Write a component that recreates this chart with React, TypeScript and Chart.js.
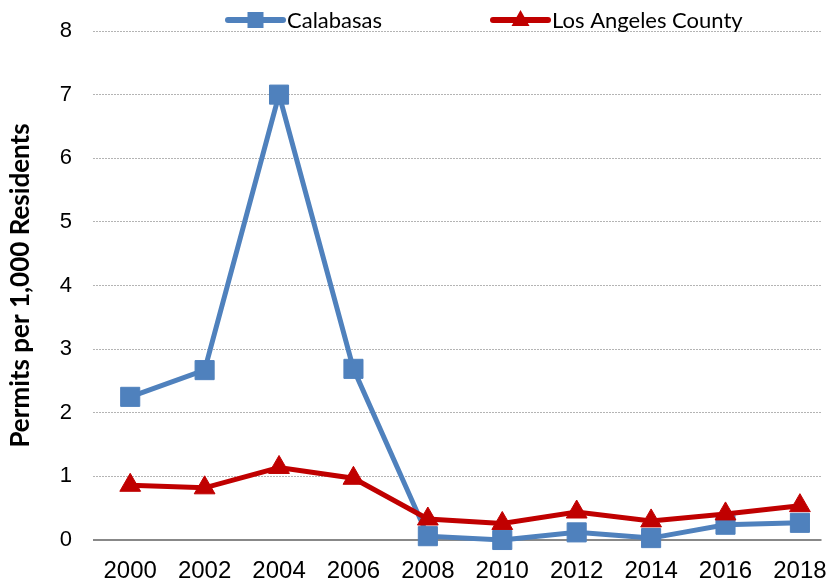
import React, { useEffect, useRef } from "react";
import { Chart, registerables } from "chart.js";

Chart.register(...registerables);

const years = [2000, 2002, 2004, 2006, 2008, 2010, 2012, 2014, 2016, 2018];
const calabasas = [2.25, 2.67, 7.0, 2.69, 0.06, 0.0, 0.12, 0.03, 0.24, 0.27];
const laCounty = [0.86, 0.82, 1.14, 0.97, 0.33, 0.26, 0.44, 0.3, 0.41, 0.54];
const yTicks = [0, 1, 2, 3, 4, 5, 6, 7, 8];
// visible x range (the reference plot is cut off at the right edge)
const X_MIN = 1999;
const X_MAX = 2018.58;

const BLUE = "#4F81BD";
const RED = "#C00000";

const toPoints = (vals: number[]) => years.map((yr, i) => ({ x: yr, y: vals[i] }));

const legendPlugin = {
  id: "customLegend",
  afterDraw(chart: any) {
    const ctx = chart.ctx;
    const y = 20;
    const items = [
      { label: "Calabasas", color: BLUE, style: "rect", x0: 228, x1: 283 },
      { label: "Los Angeles County", color: RED, style: "triangle", x0: 493, x1: 548 },
    ];
    ctx.save();
    for (const it of items) {
      ctx.strokeStyle = it.color;
      ctx.fillStyle = it.color;
      ctx.lineWidth = 6;
      ctx.lineCap = "round";
      ctx.beginPath();
      ctx.moveTo(it.x0, y);
      ctx.lineTo(it.x1, y);
      ctx.stroke();
      const cx = (it.x0 + it.x1) / 2;
      if (it.style === "rect") {
        ctx.fillRect(cx - 8, y - 8, 16, 16);
      } else {
        ctx.beginPath();
        ctx.moveTo(cx, y - 10);
        ctx.lineTo(cx + 9, y + 6);
        ctx.lineTo(cx - 9, y + 6);
        ctx.closePath();
        ctx.fill();
      }
      ctx.fillStyle = "#000";
      ctx.font = "22px Lato";
      ctx.textBaseline = "middle";
      ctx.textAlign = "left";
      ctx.fillText(it.label, it.x1 + 4, y + 1);
    }
    ctx.restore();
  },
};

export default function App() {
  const ref = useRef<HTMLCanvasElement>(null);
  useEffect(() => {
    if (!ref.current) return;
    const chart = new Chart(ref.current, {
      type: "line",
      data: {
        datasets: [
          {
            label: "Calabasas",
            data: toPoints(calabasas),
            borderColor: BLUE,
            backgroundColor: BLUE,
            borderWidth: 5,
            pointStyle: "rect",
            pointRadius: 13.5,
            pointBorderWidth: 1,
            pointBackgroundColor: BLUE,
            pointBorderColor: BLUE,
            order: 1,
            tension: 0,
            clip: false,
          },
          {
            label: "Los Angeles County",
            data: toPoints(laCounty),
            borderColor: RED,
            backgroundColor: RED,
            borderWidth: 5,
            pointStyle: "triangle",
            pointRadius: 12,
            pointBorderWidth: 1,
            pointBackgroundColor: RED,
            pointBorderColor: RED,
            order: 0,
            tension: 0,
            clip: false,
          },
        ],
      },
      options: {
        responsive: false,
        animation: false,
        layout: { padding: { top: 31, left: 0, right: 0, bottom: 0 } },
        plugins: {
          legend: { display: false },
          tooltip: { enabled: false },
        },
        scales: {
          x: {
            type: "linear",
            min: X_MIN,
            max: X_MAX,
            afterBuildTicks: (s: any) => {
              s.ticks = years.map((v) => ({ value: v }));
            },
            grid: { display: false, drawTicks: false },
            border: { display: false },
            ticks: {
              font: { family: "'Liberation Sans Narrow', 'Liberation Sans'", size: 24 },
              color: "#000",
              padding: 17,
              maxRotation: 0,
              autoSkip: false,
              callback: (v: any) => String(v),
            },
            afterFit: (s: any) => {
              s.height = 48;
              s.paddingLeft = 0;
              s.paddingRight = 0;
            },
          },
          y: {
            min: 0,
            max: 8,
            afterBuildTicks: (s: any) => {
              s.ticks = yTicks.map((v) => ({ value: v }));
            },
            grid: {
              drawTicks: false,
              color: (c: any) => (c.tick && c.tick.value === 0 ? "#888888" : "#b4b4b4"),
              lineWidth: (c: any) => (c.tick && c.tick.value === 0 ? 2 : 1),
            },
            border: {
              display: false,
              dash: (c: any) => (c.tick && c.tick.value === 0 ? [] : [2, 1]),
            },
            ticks: {
              font: { family: "'Liberation Sans Narrow', 'Liberation Sans'", size: 22 },
              color: "#000",
              padding: 21,
            },
            title: {
              display: true,
              text: "Permits per 1,000 Residents",
              font: { family: "Lato", size: 26, weight: "bold" },
              color: "#000",
              padding: { top: 5, bottom: 0 },
            },
            afterFit: (s: any) => {
              s.width = 93;
              s.paddingTop = 0;
              s.paddingBottom = 0;
            },
          },
        },
      },
      plugins: [legendPlugin],
    });
    return () => chart.destroy();
  }, []);
  return (
    <div style={{ position: "fixed", left: 0, top: 0, width: 836, height: 588, overflow: "hidden", background: "#fff" }}>
      <canvas ref={ref} width={836} height={588} style={{ width: 836, height: 588, display: "block" }} />
    </div>
  );
}
